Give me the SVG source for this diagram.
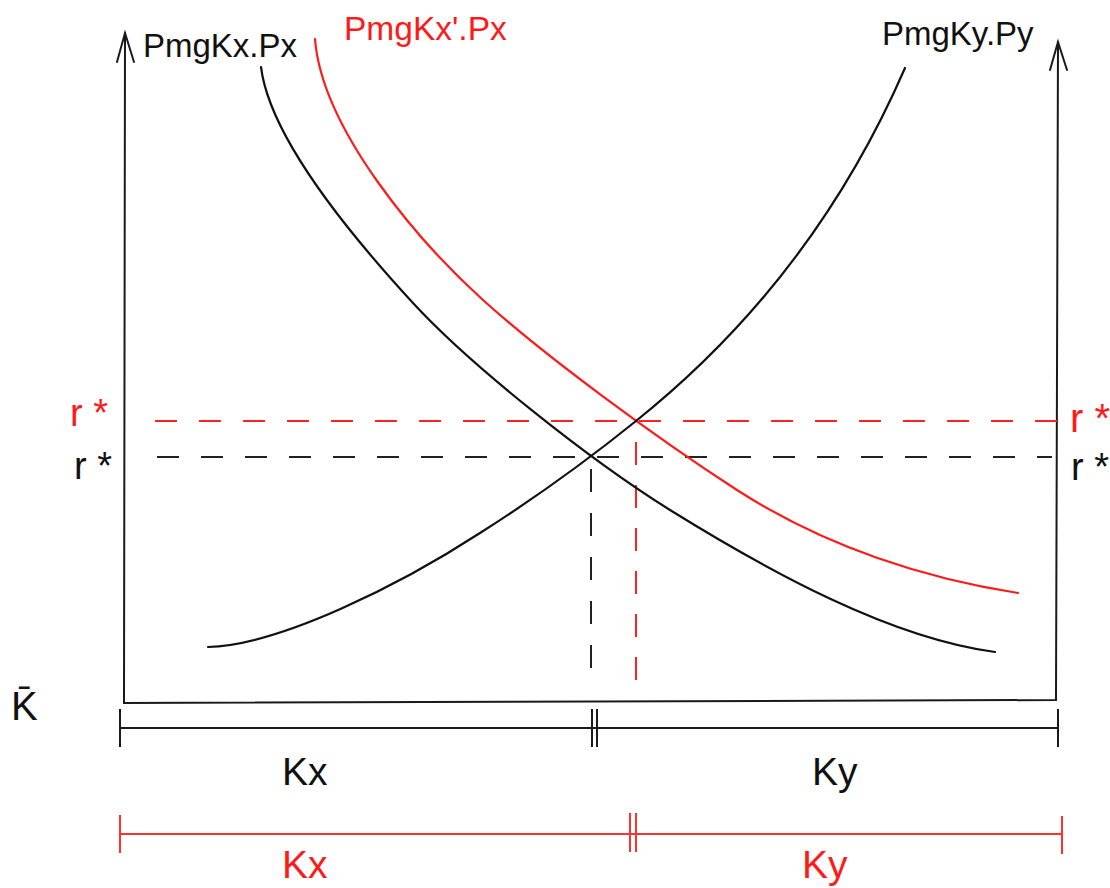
<svg xmlns="http://www.w3.org/2000/svg" width="1110" height="888" viewBox="0 0 1110 888">
<style>
.ax{fill:none;stroke:#1a1a1a;stroke-width:2;stroke-linecap:round}
.cb{fill:none;stroke:#111;stroke-width:2.2;stroke-linecap:round}
.cr{fill:none;stroke:#ff1a1a;stroke-width:2.2;stroke-linecap:round}
.db{fill:none;stroke:#222;stroke-width:2;stroke-dasharray:22 22}
.dr{fill:none;stroke:#ff2020;stroke-width:2;stroke-dasharray:22 22}
.bb{fill:none;stroke:#1a1a1a;stroke-width:2}
.br{fill:none;stroke:#ff3030;stroke-width:2}
.t{font-family:"Liberation Sans",Arial,sans-serif;fill:#111}
.tr{font-family:"Liberation Sans",Arial,sans-serif;fill:#ff1a1a}
</style>
<rect width="1110" height="888" fill="#fff"/>
<g id="axes">
<path class="ax" d="M125,33 L124,703 L1056,700 L1058,42"/>
<path class="ax" d="M117,62 L125,33 L134,62"/>
<path class="ax" d="M1050,70 L1058,42 L1067,70"/>
</g>
<g id="connectors">
<path class="db" d="M157,457 H1052"/>
<path class="dr" d="M155,421 H1060"/>
<path class="db" d="M591,469 V668" style="stroke-dasharray:23 21"/>
<path class="dr" d="M636,442 V684" style="stroke-dasharray:23 20"/>
</g>
<g id="curve-kx">
<path class="cb" d="M261,67 C270,140 355,240 413,303 C471,366 590,460 670,510 C770,572 890,638 995,652"/>
</g>
<g id="curve-kx2">
<path class="cr" d="M315,39 C322,130 420,243 483,300 C545,356 655,437 737,490 C827,548 928,579 1018,593"/>
</g>
<g id="curve-ky">
<path class="cb" d="M208,647 C280,645 400,585 480,533 C532,500 584,463 636,421 C756,325 845,206 905,68"/>
</g>
<g id="labels">
<text class="t" x="143" y="57" font-size="33">PmgKx.Px</text>
<text class="tr" x="344" y="40" font-size="33.5">PmgKx'.Px</text>
<text class="t" x="882" y="45" font-size="33">PmgKy.Py</text>
<text class="tr" x="70" y="426" font-size="38">r *</text>
<text class="t" x="74" y="479" font-size="38">r *</text>
<text class="tr" x="1070" y="432" font-size="40">r *</text>
<text class="t" x="1071" y="480" font-size="38">r *</text>
<text class="t" x="11" y="720" font-size="40">K̄</text>
</g>
<g id="bracket-black">
<path class="bb" d="M120,728 H1058 M120,709 V747 M1058,709 V747 M592,709 V747 M597,709 V747"/>
<text class="t" x="282" y="785" font-size="39">Kx</text>
<text class="t" x="812" y="785" font-size="39">Ky</text>
</g>
<g id="bracket-red">
<path class="br" d="M120,834 H1062 M120,815 V853 M1062,816 V854 M630,813 V852 M636,813 V852"/>
<text class="tr" x="282" y="878" font-size="39">Kx</text>
<text class="tr" x="802" y="878" font-size="39">Ky</text>
</g>
</svg>
